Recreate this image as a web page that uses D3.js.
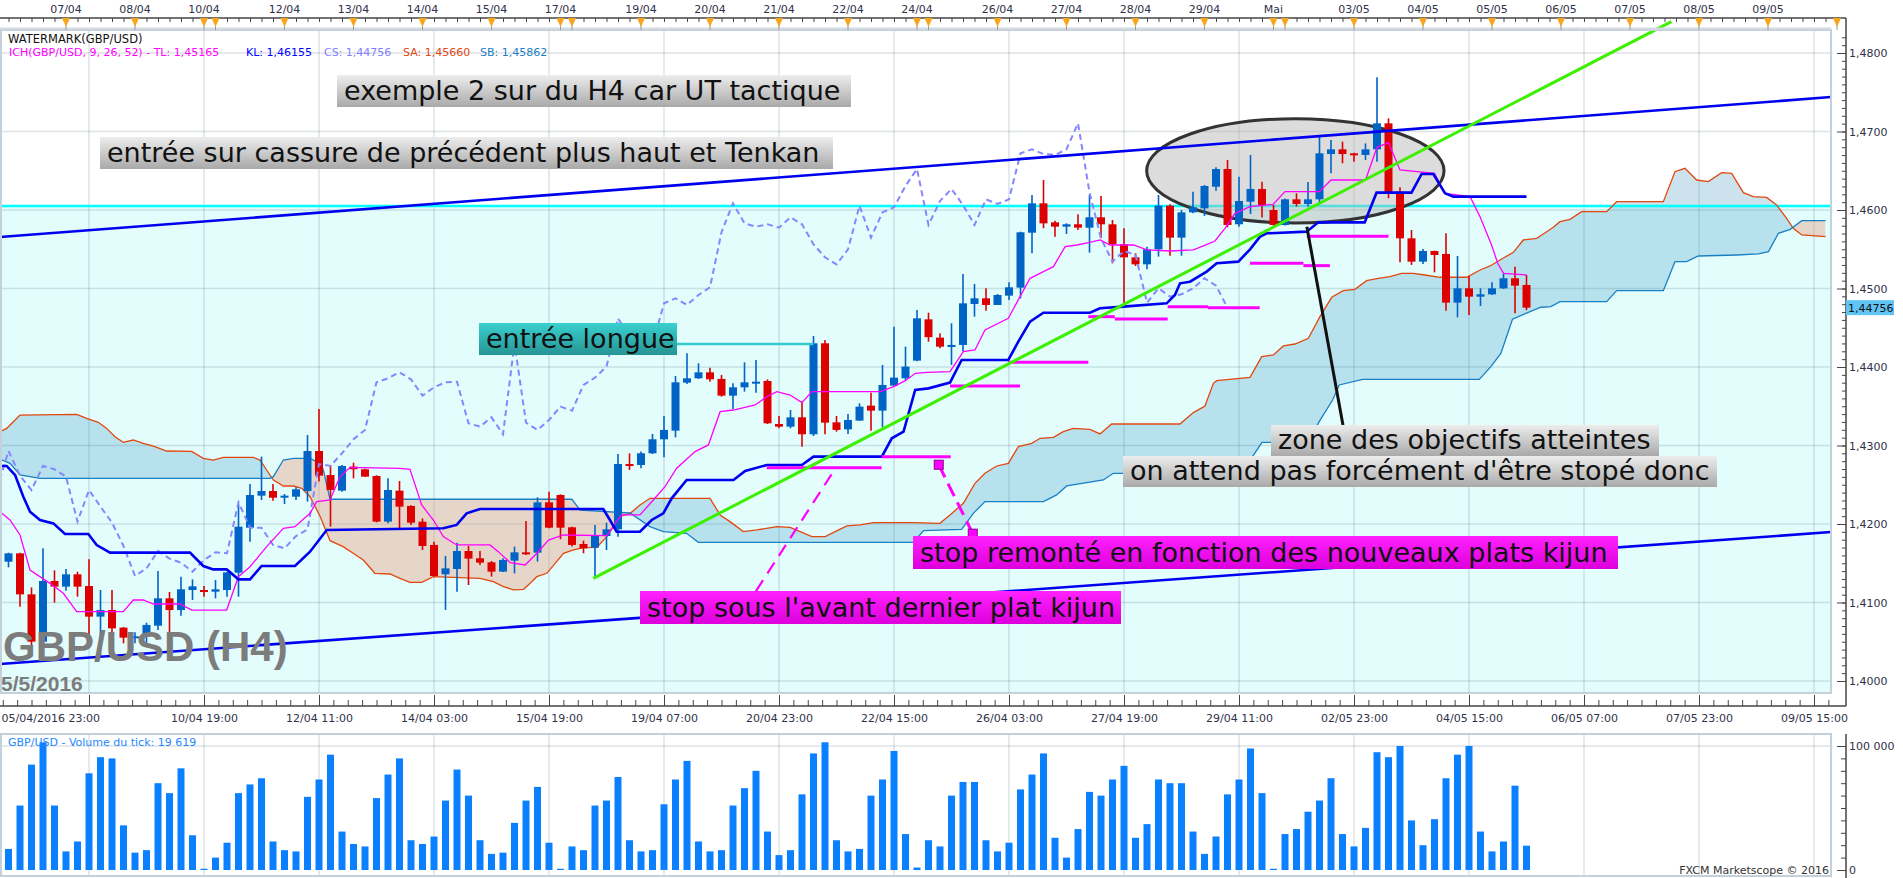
<!DOCTYPE html>
<html>
<head>
<meta charset="utf-8">
<script src="https://cdn.jsdelivr.net/npm/d3@7"></script>
<style>
body { margin: 0; background: #fff; }
svg { display: block; font-family: "DejaVu Sans", sans-serif; }
</style>
</head>
<body>
<svg width="1903" height="878"></svg>
<script>
// GBP/USD H4 candles (index 0 = first visible bar)
var opens = [1.41520,1.41626,1.41104,1.40501,1.41274,1.41202,1.41359,1.41210,1.40820,1.40904,
  1.40680,1.40556,1.40565,1.40705,1.41053,1.40904,1.41159,1.41159,1.41138,1.41159,
  1.41380,1.41953,1.42361,1.42420,1.42353,1.42348,1.42420,1.42930,1.42624,1.42425,
  1.42731,1.42697,1.42612,1.42030,1.42425,1.42230,1.42030,1.41733,1.41359,1.41427,
  1.41656,1.41563,1.41512,1.41393,1.41533,1.41639,1.41635,1.42276,1.42370,1.41958,
  1.41745,1.41699,1.41847,1.41932,1.42764,1.42752,1.42901,1.43079,1.43189,1.43801,
  1.43856,1.43932,1.43848,1.43635,1.43741,1.43801,1.43822,1.43274,1.43240,1.43359,
  1.43143,1.44302,1.43295,1.43206,1.43317,1.43508,1.43444,1.43763,1.43856,1.44081,
  1.44607,1.44374,1.44268,1.44281,1.44803,1.44875,1.44790,1.44909,1.45011,1.45711,
  1.46085,1.45843,1.45788,1.45818,1.45775,1.45907,1.45818,1.45563,1.45397,1.45308,
  1.45499,1.46055,1.45648,1.45970,1.46021,1.46297,1.46522,1.45818,1.46106,1.46268,
  1.46000,1.45809,1.46136,1.46077,1.46136,1.46713,1.46773,1.46722,1.46701,1.46773,
  1.47104,1.46234,1.45639,1.45342,1.45478,1.45440,1.44820,1.45002,1.44896,1.44926,
  1.45002,1.45130,1.45045];
var highs = [1.41635,1.41635,1.41193,1.41690,1.41410,1.41427,1.41393,1.41550,1.41159,1.41159,
  1.40688,1.40620,1.40743,1.41401,1.41134,1.41329,1.41295,1.41210,1.41287,1.41393,
  1.42255,1.42510,1.42858,1.42510,1.42382,1.42467,1.43134,1.43465,1.42752,1.42752,
  1.42782,1.42705,1.42620,1.42582,1.42548,1.42238,1.42072,1.41775,1.41593,1.41762,
  1.41720,1.41656,1.41529,1.41563,1.41711,1.42038,1.42340,1.42412,1.42378,1.41966,
  1.41788,1.41988,1.42017,1.42892,1.42900,1.42922,1.43147,1.43376,1.43886,1.44174,
  1.44047,1.43992,1.43899,1.43792,1.44060,1.44090,1.43843,1.43376,1.43452,1.43559,
  1.44395,1.44344,1.43376,1.43402,1.43537,1.43673,1.44026,1.44514,1.44259,1.44726,
  1.44692,1.44429,1.44557,1.45185,1.45058,1.45002,1.44930,1.45079,1.45724,1.46191,
  1.46382,1.45864,1.45830,1.45945,1.46191,1.46178,1.45873,1.45767,1.45448,1.45533,
  1.46191,1.46072,1.46000,1.46234,1.46319,1.46544,1.46637,1.46425,1.46701,1.46361,
  1.46064,1.46145,1.46212,1.46357,1.46943,1.46892,1.46871,1.46730,1.46849,1.47690,
  1.47168,1.46289,1.45745,1.45503,1.45482,1.45703,1.45414,1.45160,1.45002,1.45079,
  1.45185,1.45278,1.45172];
var lows = [1.41448,1.40947,1.40437,1.40437,1.40998,1.41151,1.41074,1.40565,1.40310,1.40522,
  1.40480,1.40480,1.40437,1.40650,1.40522,1.40832,1.41032,1.41074,1.41053,1.41074,
  1.41074,1.41775,1.42306,1.42297,1.42255,1.42306,1.42285,1.42540,1.41966,1.42412,
  1.42582,1.42599,1.42021,1.42009,1.41945,1.41988,1.41669,1.41330,1.40905,1.41138,
  1.41223,1.41478,1.41330,1.41389,1.41372,1.41606,1.41521,1.41945,1.41805,1.41712,
  1.41627,1.41330,1.41669,1.41839,1.42688,1.42710,1.42892,1.42850,1.43104,1.43784,
  1.43848,1.43813,1.43622,1.43465,1.43686,1.43673,1.43274,1.43219,1.43219,1.42985,
  1.43121,1.43143,1.43176,1.43147,1.43317,1.43189,1.43232,1.43750,1.43826,1.44073,
  1.44323,1.44238,1.44026,1.44196,1.44641,1.44718,1.44790,1.44854,1.44875,1.45448,
  1.45767,1.45660,1.45694,1.45745,1.45457,1.45639,1.45321,1.44769,1.45287,1.45244,
  1.45406,1.45418,1.45418,1.45958,1.45924,1.46246,1.45779,1.45788,1.45949,1.45903,
  1.45801,1.45801,1.46043,1.46043,1.46094,1.46467,1.46595,1.46616,1.46637,1.46616,
  1.46149,1.45334,1.45300,1.45312,1.45206,1.44718,1.44633,1.44663,1.44777,1.44917,
  1.44994,1.44684,1.44724];
var closes = [1.41626,1.41104,1.40501,1.41274,1.41202,1.41359,1.41202,1.40820,1.40904,1.40671,
  1.40552,1.40569,1.40714,1.41053,1.40904,1.41168,1.41206,1.41138,1.41168,1.41384,
  1.41966,1.42369,1.42420,1.42335,1.42361,1.42442,1.42930,1.42616,1.42433,1.42739,
  1.42697,1.42603,1.42030,1.42433,1.42221,1.42017,1.41720,1.41338,1.41435,1.41656,
  1.41559,1.41508,1.41393,1.41542,1.41639,1.41627,1.42276,1.41953,1.41953,1.41733,
  1.41690,1.41847,1.41932,1.42764,1.42740,1.42901,1.43079,1.43198,1.43805,1.43856,
  1.43932,1.43843,1.43635,1.43741,1.43805,1.43813,1.43283,1.43240,1.43359,1.43143,
  1.44302,1.43291,1.43198,1.43325,1.43495,1.43444,1.43771,1.43865,1.44005,1.44620,
  1.44380,1.44259,1.44281,1.44811,1.44875,1.44790,1.44917,1.45015,1.45716,1.46085,
  1.45830,1.45788,1.45818,1.45775,1.45907,1.45818,1.45563,1.45397,1.45308,1.45499,
  1.46055,1.45648,1.45970,1.46034,1.46306,1.46522,1.45809,1.46115,1.46268,1.46064,
  1.45809,1.46136,1.46077,1.46136,1.46722,1.46773,1.46713,1.46701,1.46773,1.47104,
  1.46225,1.45639,1.45342,1.45478,1.45427,1.44820,1.45002,1.44896,1.44926,1.45002,
  1.45130,1.45036,1.44756];

// tick volume per bar
var volumes = [17000,52000,85000,103000,52000,15000,23000,78000,91000,90000,36000,14000,16000,70000,62000,82000,28000,1000,
  10000,22000,62000,69000,74000,23000,16000,15000,59000,73000,93000,31000,21000,19000,58000,77000,90000,24000,
  21000,27000,56000,81000,60000,24000,13000,14000,38000,56000,67000,22000,1000,19000,16000,52000,56000,75000,
  24000,15000,16000,53000,73000,88000,23000,15000,16000,52000,66000,80000,31000,12000,16000,61000,94000,103000,
  24000,15000,17000,60000,73000,96000,29000,2000,24000,19000,60000,71000,71000,24000,15000,22000,65000,77000,
  94000,26000,10000,33000,63000,60000,73000,84000,26000,37000,73000,70000,70000,31000,13000,27000,61000,73000,
  98000,62000,1000,29000,33000,47000,56000,74000,29000,19000,34000,95000,91000,100000,40000,20000,41000,74000,
  93000,100000,31000,15000,23000,68000,19619];

// Ichimoku lines as [bar index, price] vertices
var tenkan = [[-0.74,1.42157],[0.13,1.42051],[1.0,1.41860],[1.87,1.41414],[3.61,1.41244],[4.77,1.41117],[5.93,1.40883],
  [9.98,1.40883],[10.85,1.41032],[11.72,1.41032],[12.6,1.40981],[14.91,1.40981],[15.93,1.40904],[18.97,1.40904],
  [19.99,1.41329],[21.0,1.41456],[22.45,1.41711],[23.9,1.41945],[24.91,1.41966],[26.22,1.42136],[26.8,1.42285],
  [27.96,1.42306],[28.83,1.42603],[29.7,1.42722],[34.04,1.42709],[34.91,1.42697],[35.93,1.42242],[36.94,1.42051],
  [37.81,1.41839],[38.97,1.41733],[41.87,1.41733],[42.59,1.41648],[43.62,1.41508],[44.93,1.41478],[45.94,1.41627],
  [46.96,1.41796],[48.26,1.41860],[52.03,1.41851],[52.75,1.42009],[53.33,1.42115],[54.91,1.42115],[56.07,1.42306],
  [57.09,1.42476],[58.1,1.42710],[59.7,1.42922],[60.86,1.43007],[61.88,1.43431],[63.04,1.43452],[64.93,1.43516],
  [65.94,1.43622],[66.81,1.43686],[67.97,1.43643],[68.99,1.43546],[69.86,1.43686],[75.81,1.43686],[76.97,1.43750],
  [77.99,1.43826],[78.86,1.43920],[79.88,1.43932],[81.87,1.43941],[83.03,1.44196],[84.04,1.44217],[84.91,1.44472],
  [86.94,1.44620],[87.96,1.44896],[88.83,1.45130],[89.99,1.45215],[90.86,1.45278],[91.88,1.45533],[92.9,1.45554],
  [93.91,1.45584],[94.93,1.45618],[95.8,1.45554],[97.83,1.45554],[99.0,1.45491],[101.0,1.45478],[103.03,1.45491],
  [103.9,1.45542],[104.91,1.45605],[105.78,1.45767],[106.65,1.45958],[107.96,1.46043],[109.96,1.46072],[111.0,1.46234],
  [114.0,1.46234],[115.0,1.46382],[118.0,1.46382],[119.0,1.46798],[120.0,1.46858],[121.0,1.46510],[124.0,1.46467],
  [124.9,1.46213],[127.09,1.46170],[127.96,1.45915],[128.96,1.45554],[129.5,1.45321],[130.0,1.45193],[132.0,1.45172]];
var kijun = [[-0.74,1.42739],[-0.16,1.42739],[0.57,1.42624],[1.29,1.42348],[1.87,1.42157],[2.74,1.42051],[3.9,1.42008],
  [4.91,1.41872],[6.94,1.41872],[7.67,1.41732],[8.83,1.41635],[15.78,1.41635],[16.94,1.41465],[17.81,1.41422],
  [18.97,1.41422],[19.99,1.41295],[21.0,1.41295],[22.01,1.41465],[24.91,1.41465],[26.22,1.41647],[27.67,1.41924],
  [37.81,1.41945],[38.97,1.41988],[39.84,1.42136],[41.0,1.42191],[51.72,1.42191],[52.3,1.42051],[52.88,1.41902],
  [54.91,1.41903],[55.93,1.42051],[56.94,1.42136],[57.67,1.42327],[58.97,1.42561],[63.04,1.42561],[64.06,1.42675],
  [65.94,1.42752],[68.99,1.42752],[70.0,1.42858],[75.94,1.42858],[76.81,1.43092],[77.83,1.43177],[78.84,1.43707],
  [80.0,1.43728],[81.87,1.43801],[82.88,1.44090],[86.94,1.44090],[87.81,1.44323],[88.83,1.44578],[89.99,1.44692],
  [94.04,1.44692],[94.91,1.44748],[96.94,1.44769],[100.71,1.44811],[101.43,1.44917],[101.87,1.45066],[102.74,1.45087],
  [104.19,1.45215],[105.06,1.45321],[106.94,1.45342],[107.96,1.45499],[108.83,1.45661],[109.41,1.45703],[112.88,1.45724],
  [113.9,1.45843],[117.93,1.45843],[118.96,1.46221],[122.0,1.46221],[122.88,1.46459],[123.9,1.46459],[124.91,1.46213],
  [125.64,1.46170],[132.0,1.46170]];
var senkouA = [[-0.74,1.43176],[-0.16,1.43218],[0.42,1.43303],[1.0,1.43388],[5.93,1.43397],[6.8,1.43346],[7.81,1.43295],
  [8.54,1.43218],[9.26,1.43112],[9.98,1.43040],[10.85,1.43070],[11.72,1.43027],[12.6,1.42993],[13.75,1.42930],
  [15.93,1.42925],[16.94,1.42836],[17.81,1.42815],[18.68,1.42849],[21.29,1.42849],[21.87,1.42815],[22.45,1.42688],
  [23.03,1.42560],[23.9,1.42484],[24.77,1.42484],[25.5,1.42454],[26.22,1.42348],[27.09,1.42100],[27.96,1.41788],
  [29.1,1.41712],[29.97,1.41627],[30.85,1.41542],[31.86,1.41372],[33.17,1.41363],[34.04,1.41308],[34.91,1.41257],
  [35.93,1.41257],[36.94,1.41329],[41.0,1.41308],[42.16,1.41266],[43.04,1.41202],[43.91,1.41160],[44.78,1.41168],
  [45.36,1.41244],[45.94,1.41329],[46.81,1.41372],[47.54,1.41499],[48.26,1.41627],[49.13,1.41669],[50.0,1.41699],
  [51.16,1.41703],[52.03,1.41839],[52.61,1.41966],[53.33,1.42102],[54.06,1.42136],[54.91,1.42242],[55.78,1.42327],
  [61.0,1.42327],[61.88,1.42115],[62.74,1.42030],[63.9,1.41903],[65.06,1.41924],[66.81,1.41967],[67.97,1.41958],
  [68.84,1.41903],[69.86,1.41839],[71.02,1.41839],[71.88,1.41903],[72.9,1.41975],[74.06,1.41988],[75.22,1.42018],
  [78.7,1.42018],[80.99,1.42009],[81.87,1.42115],[83.03,1.42264],[84.04,1.42518],[84.91,1.42646],[85.93,1.42739],
  [86.94,1.42773],[87.81,1.42985],[88.97,1.43028],[89.7,1.43092],[90.86,1.43104],[91.72,1.43177],[92.59,1.43219],
  [94.04,1.43206],[94.91,1.43147],[95.93,1.43274],[101.87,1.43274],[103.03,1.43419],[104.04,1.43503],[104.77,1.43792],
  [105.06,1.43826],[107.96,1.43869],[108.97,1.44132],[109.99,1.44153],[110.86,1.44268],[111.87,1.44293],[113.03,1.44365],
  [114.04,1.44641],[115.06,1.44888],[116.07,1.44973],[117.08,1.44990],[118.1,1.45100],[119.1,1.45130],[120.13,1.45151],
  [121.14,1.45193],[122.16,1.45193],[123.17,1.45172],[124.48,1.45143],[126.8,1.45143],[127.96,1.45236],[128.83,1.45287],
  [129.84,1.45376],[130.86,1.45461],[131.72,1.45618],[132.88,1.45639],[133.46,1.45694],[134.33,1.45779],[134.91,1.45851],
  [135.78,1.45881],[136.8,1.45979],[138.97,1.45979],[139.84,1.46106],[143.9,1.46106],[144.91,1.46488],[145.78,1.46531],
  [146.8,1.46382],[147.81,1.46361],[148.97,1.46476],[149.84,1.46467],[150.86,1.46221],[151.72,1.46170],[152.88,1.46161],
  [153.75,1.46064],[154.62,1.45894],[155.2,1.45766],[155.93,1.45682],[158.0,1.45660]];
var senkouB = [[-0.74,1.42828],[0.13,1.42773],[1.0,1.42624],[2.74,1.42582],[22.74,1.42582],[23.03,1.42603],[23.9,1.42815],
  [24.77,1.42836],[26.22,1.42836],[27.09,1.42773],[27.38,1.42688],[27.96,1.42315],[48.99,1.42315],[49.71,1.42178],
  [54.04,1.42140],[55.78,1.41967],[56.94,1.41903],[58.97,1.41881],[59.98,1.41767],[78.7,1.41767],[79.57,1.41915],
  [82.88,1.41932],[83.9,1.42136],[84.91,1.42285],[89.99,1.42285],[91.14,1.42370],[92.01,1.42485],[95.2,1.42561],
  [96.07,1.42646],[103.0,1.42646],[104.0,1.42710],[105.0,1.42820],[108.0,1.42820],[109.0,1.43040],[113.0,1.43040],
  [114.0,1.43310],[115.14,1.43580],[115.72,1.43771],[117.75,1.43843],[127.9,1.43843],[128.9,1.44004],[129.77,1.44174],
  [130.78,1.44608],[131.94,1.44684],[133.25,1.44761],[134.12,1.44769],[134.91,1.44833],[138.97,1.44833],[139.84,1.44973],
  [143.9,1.44973],[144.91,1.45342],[145.93,1.45342],[146.94,1.45414],[150.28,1.45427],[152.17,1.45440],[153.04,1.45469],
  [153.91,1.45703],[154.93,1.45754],[155.94,1.45864],[158.0,1.45864]];
var chikouShift = 26;

// drawn objects: trend lines [[idx, price], [idx, price]]
var upperTrend = [[-0.74,1.45656],[158.48,1.47439]];
var lowerTrend = [[-0.74,1.40217],[158.48,1.41898]];
var greenTrend = [[50.85,1.41308],[144.6,1.48400]];
var levelPrice = 1.4605;
// flat kijun marks [fromIdx, toIdx, price]
var kijunFlats = [[65.93,75.93,1.42717],[75.93,81.93,1.42858],[81.87,87.96,1.43758],[86.94,93.9,1.44060],
  [93.9,96.2,1.44641],[96.2,100.8,1.44611],[100.8,104.3,1.44768],[104.3,108.8,1.44755],
  [107.96,112.6,1.45321],[112.6,114.9,1.45291],[112.9,120.0,1.45667]];
var stopSquares = [[80.89,1.42755],[83.85,1.41877]];
var stopDash = [[65.0,1.41146],[71.7,1.42662]];
var entryLine = [58.1, 70.0, 1.44293];
var targetZone = [98.97, 124.83, 1.47163, 1.45834];
var pointer = [[112.9,1.45787],[116.04,1.43261]];

// axes
var priceTicks = [1.40,1.41,1.42,1.43,1.44,1.45,1.46,1.47,1.48];
var dayLabels = ["07/04","08/04","10/04","12/04","13/04","14/04","15/04","17/04","19/04","20/04","21/04","22/04",
  "24/04","26/04","27/04","28/04","29/04","Mai","03/05","04/05","05/05","06/05","07/05","08/05","09/05"];
var dayIdx = [5,11,17,24,30,36,42,48,55,61,67,73,79,86,92,98,104,110,117,123,129,135,141,147,153];
var extraDayIdx = [18,49,80,111,159];
var timeTickIdx = [7,17,27,37,47,57,67,77,87,97,107,117,127,137,147,157];
var timeLabels = ["05/04/2016 23:00","10/04 19:00","12/04 11:00","14/04 03:00","15/04 19:00","19/04 07:00",
  "20/04 23:00","22/04 15:00","26/04 03:00","27/04 19:00","29/04 11:00","02/05 23:00","04/05 15:00",
  "06/05 07:00","07/05 23:00","09/05 15:00"];
var notes = ["exemple 2 sur du H4 car UT tactique",
  "entrée sur cassure de précédent plus haut et Tenkan",
  "entrée longue",
  "zone des objectifs atteintes",
  "on attend pas forcément d'être stopé donc",
  "stop remonté en fonction des nouveaux plats kijun",
  "stop sous l'avant dernier plat kijun"];

var svg = d3.select("svg"),
    plot = {left: 0, right: 1831, top: 30, bottom: 693},
    volPane = {top: 734, bottom: 876},
    axisX = 1846;

var x = d3.scaleLinear().domain([0, 158]).range([8.5, 1825.5]),
    y = d3.scaleLinear().domain([1.40, 1.48]).range([681, 53]),
    vy = d3.scaleLinear().domain([0, 100000]).range([870, 746]);

var upColor = "#0063c6", downColor = "#dd0000";
var fmt = function (v) { return v.toFixed(4).replace(".", ","); };

var defs = svg.append("defs");
defs.append("clipPath").attr("id", "clipPlot").append("rect")
    .attr("x", plot.left).attr("y", plot.top)
    .attr("width", plot.right - plot.left).attr("height", plot.bottom - plot.top);
function grad(id, top, bottom) {
  var lg = defs.append("linearGradient").attr("id", id)
      .attr("x1", 0).attr("y1", 0).attr("x2", 0).attr("y2", 1);
  lg.append("stop").attr("offset", "0%").attr("stop-color", top);
  lg.append("stop").attr("offset", "100%").attr("stop-color", bottom);
}
grad("gGray", "#ededed", "#a9a9a9");
grad("gTeal", "#3ad0d0", "#279494");
grad("gMag", "#ff22ff", "#dd00dd");

var line = d3.line().x(function (d) { return x(d[0]); }).y(function (d) { return y(d[1]); });

// clip regions above / below Senkou A to colour the cloud
var saPath = line(senkouA),
    sa0 = x(senkouA[0][0]), sa1 = x(senkouA[senkouA.length - 1][0]);
defs.append("clipPath").attr("id", "belowSA").append("path")
    .attr("d", saPath + "L" + sa1 + "," + plot.bottom + "L" + sa0 + "," + plot.bottom + "Z");
defs.append("clipPath").attr("id", "aboveSA").append("path")
    .attr("d", saPath + "L" + sa1 + "," + plot.top + "L" + sa0 + "," + plot.top + "Z");

// ---------- price pane ----------
svg.append("rect").attr("x", plot.left).attr("y", y(levelPrice))
    .attr("width", plot.right - plot.left).attr("height", plot.bottom - y(levelPrice))
    .attr("fill", "#e3fdfd");

var grid = svg.append("g").attr("stroke", "rgba(0,40,60,0.13)").attr("stroke-width", 1.5);
grid.selectAll(".hg").data(priceTicks).enter().append("line")
    .attr("x1", plot.left).attr("x2", plot.right)
    .attr("y1", function (d) { return y(d); }).attr("y2", function (d) { return y(d); });
grid.selectAll(".vg").data(timeTickIdx).enter().append("line")
    .attr("x1", function (d) { return x(d); }).attr("x2", function (d) { return x(d); })
    .attr("y1", plot.top).attr("y2", plot.bottom);

var g = svg.append("g").attr("clip-path", "url(#clipPlot)");

var cloudShape = saPath + "L" + line(senkouB.slice().reverse()).slice(1) + "Z";
g.append("path").attr("d", cloudShape).attr("fill-rule", "evenodd")
    .attr("fill", "rgba(52,144,188,0.25)").attr("clip-path", "url(#belowSA)");
g.append("path").attr("d", cloudShape).attr("fill-rule", "evenodd")
    .attr("fill", "rgba(230,160,128,0.42)").attr("clip-path", "url(#aboveSA)");

g.append("line").attr("x1", plot.left).attr("x2", plot.right)
    .attr("y1", y(levelPrice)).attr("y2", y(levelPrice))
    .attr("stroke", "#00ffff").attr("stroke-width", 2.5);

// objective zone
g.append("ellipse")
    .attr("cx", (x(targetZone[0]) + x(targetZone[1])) / 2)
    .attr("cy", (y(targetZone[2]) + y(targetZone[3])) / 2)
    .attr("rx", (x(targetZone[1]) - x(targetZone[0])) / 2)
    .attr("ry", (y(targetZone[3]) - y(targetZone[2])) / 2)
    .attr("fill", "rgba(180,180,180,0.47)").attr("stroke", "#333").attr("stroke-width", 3);

g.append("path").attr("d", line(senkouA)).attr("fill", "none").attr("stroke", "#e2480e").attr("stroke-width", 1.3);
g.append("path").attr("d", line(senkouB)).attr("fill", "none").attr("stroke", "#1a80c4").attr("stroke-width", 1.3);

// candles
var bars = d3.range(opens.length).map(function (i) {
  return {i: i, o: opens[i], h: highs[i], l: lows[i], c: closes[i]};
});
g.selectAll(".wick").data(bars).enter().append("line")
    .attr("x1", function (d) { return x(d.i); }).attr("x2", function (d) { return x(d.i); })
    .attr("y1", function (d) { return y(d.h); }).attr("y2", function (d) { return y(d.l); })
    .attr("stroke", function (d) { return d.c >= d.o ? upColor : downColor; })
    .attr("stroke-width", 1.6);
g.selectAll(".body").data(bars).enter().append("rect")
    .attr("x", function (d) { return x(d.i) - 4; })
    .attr("y", function (d) { return y(Math.max(d.o, d.c)); })
    .attr("width", 8)
    .attr("height", function (d) { return Math.max(2, Math.abs(y(d.o) - y(d.c))); })
    .attr("fill", function (d) { return d.c >= d.o ? upColor : downColor; });

// chikou span: closes drawn 26 bars back
var chikou = d3.range(-1, closes.length - chikouShift).map(function (j) {
  return [j, closes[j + chikouShift]];
});
g.append("path").attr("d", line(chikou)).attr("fill", "none")
    .attr("stroke", "#8686ff").attr("stroke-width", 2).attr("stroke-dasharray", "6,4");
g.append("path").attr("d", line(tenkan)).attr("fill", "none").attr("stroke", "#ff00ff").attr("stroke-width", 1.3);
g.append("path").attr("d", line(kijun)).attr("fill", "none").attr("stroke", "#0000f0").attr("stroke-width", 2.6);

// watermark
svg.append("text").attr("x", 3).attr("y", 661)
    .style("font-family", "'Liberation Sans', Arial, sans-serif").style("font-weight", "bold")
    .style("font-size", "42px").attr("fill", "#7c7c7c").text("GBP/USD (H4)");
svg.append("text").attr("x", 1).attr("y", 691)
    .style("font-family", "'Liberation Sans', Arial, sans-serif").style("font-weight", "bold")
    .style("font-size", "21px").attr("fill", "#7c7c7c").text("5/5/2016");

// trend lines
g.append("path").attr("d", line(upperTrend)).attr("stroke", "#0000f0").attr("stroke-width", 2.6).attr("fill", "none");
g.append("path").attr("d", line(lowerTrend)).attr("stroke", "#0000f0").attr("stroke-width", 2.6).attr("fill", "none");

// kijun flats, stop marks
g.selectAll(".flat").data(kijunFlats).enter().append("line")
    .attr("x1", function (d) { return x(d[0]); }).attr("x2", function (d) { return x(d[1]); })
    .attr("y1", function (d) { return y(d[2]); }).attr("y2", function (d) { return y(d[2]); })
    .attr("stroke", "#ff00ff").attr("stroke-width", 3);
g.append("path").attr("d", line(stopDash)).attr("stroke", "#ff00ff").attr("stroke-width", 2.2)
    .attr("stroke-dasharray", "13,8").attr("fill", "none");
g.append("path").attr("d", line(stopSquares)).attr("stroke", "#ff00ff").attr("stroke-width", 3)
    .attr("stroke-dasharray", "14,7").attr("fill", "none");
g.selectAll(".sq").data(stopSquares).enter().append("rect")
    .attr("x", function (d) { return x(d[0]) - 4.5; }).attr("y", function (d) { return y(d[1]) - 4.5; })
    .attr("width", 9).attr("height", 9).attr("fill", "#ff00ff").attr("stroke", "#8a008a");
g.append("line").attr("x1", x(entryLine[0])).attr("x2", x(entryLine[1]))
    .attr("y1", y(entryLine[2])).attr("y2", y(entryLine[2]))
    .attr("stroke", "#33cccc").attr("stroke-width", 2.5);

// green trend line runs past the top of the pane
svg.append("path").attr("d", line(greenTrend)).attr("stroke", "#3cf000").attr("stroke-width", 3).attr("fill", "none");

svg.append("path").attr("d", line(pointer)).attr("stroke", "#111").attr("stroke-width", 3);

// annotation boxes
var noteBoxes = [
  {x: 337, y: 75, w: 514, h: 32, fill: "url(#gGray)"},
  {x: 100, y: 137, w: 733, h: 32, fill: "url(#gGray)"},
  {x: 479, y: 323, w: 198, h: 32, fill: "url(#gTeal)"},
  {x: 1271, y: 425, w: 388, h: 31, fill: "url(#gGray)"},
  {x: 1123, y: 456, w: 594, h: 31, fill: "url(#gGray)"},
  {x: 913, y: 536, w: 705, h: 33, fill: "url(#gMag)"},
  {x: 640, y: 591, w: 481, h: 33, fill: "url(#gMag)"}
];
notes.forEach(function (t, i) {
  var b = noteBoxes[i];
  svg.append("rect").attr("x", b.x).attr("y", b.y).attr("width", b.w).attr("height", b.h).attr("fill", b.fill);
  svg.append("text").attr("x", b.x + 7).attr("y", b.y + b.h - 7)
      .style("font-size", "27px").attr("fill", "#111").text(t);
});

// pane borders
svg.append("rect").attr("x", plot.left + 1).attr("y", plot.top).attr("width", plot.right - plot.left - 1)
    .attr("height", plot.bottom - plot.top).attr("fill", "none").attr("stroke", "#c4d0da").attr("stroke-width", 2);

// legend
svg.append("text").attr("x", 8).attr("y", 43).style("font-size", "11.5px").attr("fill", "#111")
    .text("WATERMARK(GBP/USD)");
var leg = svg.append("text").attr("y", 56).style("font-size", "11px");
[["ICH(GBP/USD, 9, 26, 52) -  TL: 1,45165", 9, "#ff00ff"],
 ["KL: 1,46155", 246, "#0000ff"],
 ["CS: 1,44756", 324, "#8080ff"],
 ["SA: 1,45660", 403, "#e2480e"],
 ["SB: 1,45862", 480, "#1a80c4"]].forEach(function (s) {
  leg.append("tspan").attr("x", s[1]).attr("fill", s[2]).text(s[0]);
});

// ---------- top time axis ----------
var axisColor = "#30324a";
svg.append("line").attr("x1", 0).attr("x2", axisX).attr("y1", 18).attr("y2", 18)
    .attr("stroke", "#444").attr("stroke-width", 1.5);
svg.append("g").attr("transform", "translate(0,18)")
    .call(d3.axisBottom(x).tickValues(d3.range(0, 160)).tickSizeInner(4).tickSizeOuter(0).tickFormat(""))
    .call(function (a) { a.select(".domain").remove(); a.selectAll("line").attr("stroke", "#444"); });
svg.append("line").attr("x1", 0).attr("x2", plot.right).attr("y1", 28.5).attr("y2", 28.5)
    .attr("stroke", "#d4dbe2").attr("stroke-width", 2);
var marks = dayIdx.concat(extraDayIdx);
svg.selectAll(".dayline").data(marks).enter().append("line")
    .attr("x1", function (d) { return x(d); }).attr("x2", function (d) { return x(d); })
    .attr("y1", 18).attr("y2", 30).attr("stroke", "#999");
svg.selectAll(".tri").data(marks).enter().append("path")
    .attr("d", function (d) { var p = x(d); return "M" + (p - 4) + ",18L" + (p + 4) + ",18L" + p + ",27Z"; })
    .attr("fill", "#f7a51f");
svg.selectAll(".daylab").data(dayLabels).enter().append("text")
    .attr("x", function (d, i) { return x(dayIdx[i]); }).attr("y", 13)
    .attr("text-anchor", "middle").style("font-size", "11px").attr("fill", axisColor)
    .text(function (d) { return d; });

// ---------- right price axis ----------
var ra = svg.append("g").attr("transform", "translate(" + axisX + ",0)");
ra.call(d3.axisRight(y).tickValues(d3.range(1.400, 1.4825, 0.001)).tickSizeInner(-4).tickSizeOuter(0).tickFormat(""))
  .call(function (a) { a.selectAll("line").attr("stroke", "#444"); a.select(".domain").remove(); });
ra.append("g")
  .call(d3.axisRight(y).tickValues(priceTicks).tickSizeInner(-9).tickSizeOuter(0).tickPadding(3).tickFormat(fmt))
  .call(function (a) {
    a.select(".domain").remove();
    a.selectAll("line").attr("stroke", "#444");
    a.selectAll("text").style("font-size", "11px").style("font-family", "'DejaVu Sans'").attr("fill", axisColor);
  });
svg.append("line").attr("x1", axisX).attr("x2", axisX).attr("y1", 18).attr("y2", 706)
    .attr("stroke", "#444").attr("stroke-width", 1.5);
var last = closes[closes.length - 1];
svg.append("rect").attr("x", axisX).attr("y", y(last) - 7.5).attr("width", 48).attr("height", 15).attr("fill", "#62c3f5");
svg.append("text").attr("x", axisX + 2).attr("y", y(last) + 4).style("font-size", "11px").attr("fill", "#111")
    .text(last.toFixed(5).replace(".", ","));

// ---------- bottom time axis ----------
var ba = svg.append("g").attr("transform", "translate(0,706)");
ba.call(d3.axisBottom(x).tickValues(d3.range(0, 159, 1.25).map(function (v) { return v + 7 - 7.5; }).filter(function (v) { return v > -0.7; }))
    .tickSizeInner(-6).tickSizeOuter(0).tickFormat(""))
  .call(function (a) { a.select(".domain").remove(); a.selectAll("line").attr("stroke", "#444"); });
ba.append("g")
  .call(d3.axisBottom(x).tickValues(timeTickIdx).tickSizeInner(-11).tickSizeOuter(0).tickPadding(8)
    .tickFormat(function (d, i) { return timeLabels[i]; }))
  .call(function (a) {
    a.select(".domain").remove();
    a.selectAll("line").attr("stroke", "#444");
    a.selectAll("text").style("font-size", "11px").style("font-family", "'DejaVu Sans'").attr("fill", axisColor);
    a.select(".tick text").attr("text-anchor", "start").attr("x", -x(timeTickIdx[0]) + 1);
  });
svg.append("line").attr("x1", 0).attr("x2", axisX).attr("y1", 706).attr("y2", 706)
    .attr("stroke", "#444").attr("stroke-width", 1.5);

// ---------- volume pane ----------
var vg = svg.append("g");
vg.selectAll(".vgrid").data(timeTickIdx).enter().append("line")
    .attr("x1", function (d) { return x(d); }).attr("x2", function (d) { return x(d); })
    .attr("y1", volPane.top).attr("y2", volPane.bottom)
    .attr("stroke", "rgba(0,40,60,0.13)").attr("stroke-width", 1.5);
vg.append("line").attr("x1", 0).attr("x2", plot.right).attr("y1", vy(100000)).attr("y2", vy(100000))
    .attr("stroke", "rgba(0,40,60,0.13)").attr("stroke-width", 1.5);
vg.selectAll(".vbar").data(volumes).enter().append("rect")
    .attr("x", function (d, i) { return x(i) - 3.5; })
    .attr("y", function (d) { return vy(d); })
    .attr("width", 7)
    .attr("height", function (d) { return vy(0) - vy(d); })
    .attr("fill", "#0a80ff");
vg.append("rect").attr("x", 1).attr("y", volPane.top).attr("width", plot.right - 1)
    .attr("height", volPane.bottom - volPane.top).attr("fill", "none").attr("stroke", "#c4d0da").attr("stroke-width", 2);
vg.append("text").attr("x", 8).attr("y", 746).style("font-size", "11px").attr("fill", "#1f88ff")
    .text("GBP/USD - Volume du tick: " + d3.format(",")(volumes[volumes.length - 1]).replace(",", " "));
vg.append("text").attr("x", 1829).attr("y", 874).attr("text-anchor", "end").style("font-size", "11px")
    .attr("fill", "#333").text("FXCM Marketscope © 2016");
var va = svg.append("g").attr("transform", "translate(" + axisX + ",0)");
va.call(d3.axisRight(vy).tickValues(d3.range(0, 100001, 10000)).tickSizeInner(-5).tickSizeOuter(0).tickFormat(""))
  .call(function (a) { a.select(".domain").remove(); a.selectAll("line").attr("stroke", "#444"); });
va.append("g")
  .call(d3.axisRight(vy).tickValues([0, 100000]).tickSizeInner(-9).tickSizeOuter(0).tickPadding(3)
    .tickFormat(function (d) { return d3.format(",")(d).replace(",", " "); }))
  .call(function (a) {
    a.select(".domain").remove();
    a.selectAll("line").attr("stroke", "#444");
    a.selectAll("text").style("font-size", "11px").style("font-family", "'DejaVu Sans'").attr("fill", axisColor);
  });
svg.append("line").attr("x1", axisX).attr("x2", axisX).attr("y1", volPane.top).attr("y2", 878)
    .attr("stroke", "#444").attr("stroke-width", 1.5);
</script>
</body>
</html>
